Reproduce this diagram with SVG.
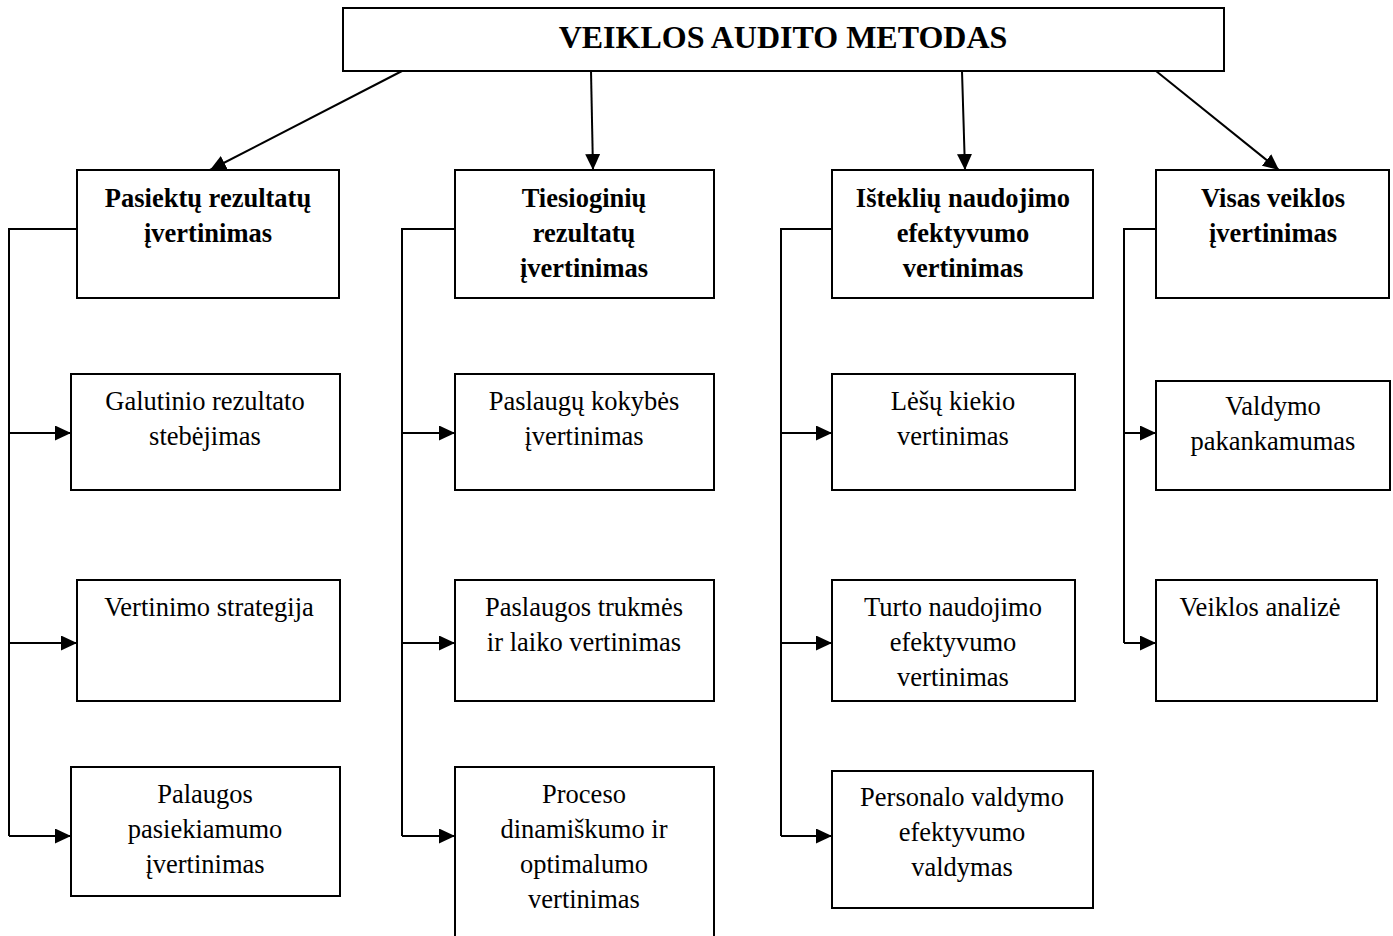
<svg xmlns="http://www.w3.org/2000/svg" width="1393" height="936" viewBox="0 0 1393 936">
  <style>
    .box { fill: #ffffff; stroke: #000000; stroke-width: 2; }
    .wire { fill: none; stroke: #000000; stroke-width: 2; }
    .arr { fill: none; stroke: #000000; stroke-width: 2; marker-end: url(#head); }
    text { font-family: "Liberation Serif", "Times New Roman", serif; font-size: 26.5px; fill: #000000; text-anchor: middle; }
    .title { font-size: 32px; font-weight: bold; }
    .hd { font-weight: bold; }
  </style>
  <defs>
    <marker id="head" markerUnits="userSpaceOnUse" markerWidth="16" markerHeight="15" refX="16" refY="7.5" orient="auto">
      <path d="M0,0 L16,7.5 L0,15 Z" fill="#000000"/>
    </marker>
  </defs>
  <rect width="1393" height="936" fill="#ffffff"/>

  <!-- connectors -->
  <g id="connectors">
    <line class="arr" x1="402" y1="71" x2="210" y2="170"/>
    <line class="arr" x1="591" y1="71" x2="593" y2="170"/>
    <line class="arr" x1="962" y1="71" x2="965" y2="170"/>
    <line class="arr" x1="1156" y1="71" x2="1279" y2="170"/>

    <path class="wire" d="M77,229 H9 V836"/>
    <path class="arr" d="M9,433 H71"/>
    <path class="arr" d="M9,643 H77"/>
    <path class="arr" d="M9,836 H71"/>

    <path class="wire" d="M455,229 H402 V836"/>
    <path class="arr" d="M402,433 H455"/>
    <path class="arr" d="M402,643 H455"/>
    <path class="arr" d="M402,836 H455"/>

    <path class="wire" d="M832,229 H781 V836"/>
    <path class="arr" d="M781,433 H832"/>
    <path class="arr" d="M781,643 H832"/>
    <path class="arr" d="M781,836 H832"/>

    <path class="wire" d="M1156,229 H1124 V643"/>
    <path class="arr" d="M1124,433 H1156"/>
    <path class="arr" d="M1124,643 H1156"/>
  </g>

  <!-- root -->
  <g id="root">
    <rect class="box" x="343" y="8" width="881" height="63"/>
    <text class="title" x="783" y="48">VEIKLOS AUDITO METODAS</text>
  </g>

  <!-- first level -->
  <g id="pasiektu">
    <rect class="box" x="77" y="170" width="262" height="128"/>
    <text class="hd" x="208" y="207">Pasiektų rezultatų</text>
    <text class="hd" x="208" y="242">įvertinimas</text>
  </g>
  <g id="tiesioginiu">
    <rect class="box" x="455" y="170" width="259" height="128"/>
    <text class="hd" x="584" y="207">Tiesioginių</text>
    <text class="hd" x="584" y="242">rezultatų</text>
    <text class="hd" x="584" y="277">įvertinimas</text>
  </g>
  <g id="istekliu">
    <rect class="box" x="832" y="170" width="261" height="128"/>
    <text class="hd" x="963" y="207">Išteklių naudojimo</text>
    <text class="hd" x="963" y="242">efektyvumo</text>
    <text class="hd" x="963" y="277">vertinimas</text>
  </g>
  <g id="visas">
    <rect class="box" x="1156" y="170" width="233" height="128"/>
    <text class="hd" x="1273" y="207">Visas veiklos</text>
    <text class="hd" x="1273" y="242">įvertinimas</text>
  </g>

  <!-- column 1 -->
  <g id="galutinio">
    <rect class="box" x="71" y="374" width="269" height="116"/>
    <text x="205" y="410">Galutinio rezultato</text>
    <text x="205" y="445">stebėjimas</text>
  </g>
  <g id="strategija">
    <rect class="box" x="77" y="580" width="263" height="121"/>
    <text x="209" y="616">Vertinimo strategija</text>
  </g>
  <g id="palaugos">
    <rect class="box" x="71" y="767" width="269" height="129"/>
    <text x="205" y="803">Palaugos</text>
    <text x="205" y="838">pasiekiamumo</text>
    <text x="205" y="873">įvertinimas</text>
  </g>

  <!-- column 2 -->
  <g id="kokybes">
    <rect class="box" x="455" y="374" width="259" height="116"/>
    <text x="584" y="410">Paslaugų kokybės</text>
    <text x="584" y="445">įvertinimas</text>
  </g>
  <g id="trukmes">
    <rect class="box" x="455" y="580" width="259" height="121"/>
    <text x="584" y="616">Paslaugos trukmės</text>
    <text x="584" y="651">ir laiko vertinimas</text>
  </g>
  <g id="proceso">
    <rect class="box" x="455" y="767" width="259" height="180"/>
    <text x="584" y="803">Proceso</text>
    <text x="584" y="838">dinamiškumo ir</text>
    <text x="584" y="873">optimalumo</text>
    <text x="584" y="908">vertinimas</text>
  </g>

  <!-- column 3 -->
  <g id="lesu">
    <rect class="box" x="832" y="374" width="243" height="116"/>
    <text x="953" y="410">Lėšų kiekio</text>
    <text x="953" y="445">vertinimas</text>
  </g>
  <g id="turto">
    <rect class="box" x="832" y="580" width="243" height="121"/>
    <text x="953" y="616">Turto naudojimo</text>
    <text x="953" y="651">efektyvumo</text>
    <text x="953" y="686">vertinimas</text>
  </g>
  <g id="personalo">
    <rect class="box" x="832" y="771" width="261" height="137"/>
    <text x="962" y="806">Personalo valdymo</text>
    <text x="962" y="841">efektyvumo</text>
    <text x="962" y="876">valdymas</text>
  </g>

  <!-- column 4 -->
  <g id="valdymo">
    <rect class="box" x="1156" y="381" width="234" height="109"/>
    <text x="1273" y="415">Valdymo</text>
    <text x="1273" y="450">pakankamumas</text>
  </g>
  <g id="analize">
    <rect class="box" x="1156" y="580" width="221" height="121"/>
    <text x="1260" y="616">Veiklos analizė</text>
  </g>
</svg>
